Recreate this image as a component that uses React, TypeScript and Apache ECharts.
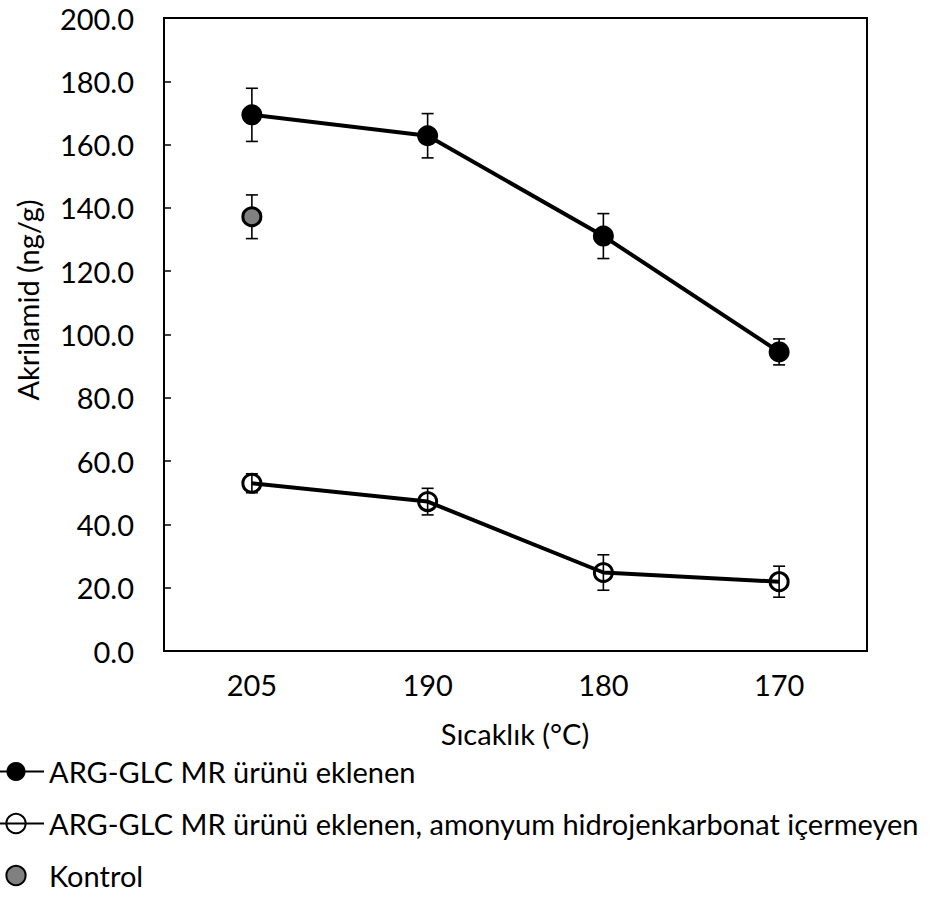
import React, { useEffect, useRef } from "react";
import * as echarts from "echarts";

const categories = ["205", "190", "180", "170"];
const filledValues = [169.4, 162.8, 131.1, 94.5];
const filledErrors = [8.4, 7.0, 7.1, 4.1];
const openValues = [53.0, 47.2, 24.8, 21.9];
const openErrors = [3.0, 4.2, 5.6, 4.9];
const controlValues: (number | null)[] = [137.2, null, null, null];
const controlErrors: (number | null)[] = [6.9, null, null, null];

const nameFilled = "ARG-GLC MR ürünü eklenen";
const nameOpen = "ARG-GLC MR ürünü eklenen, amonyum hidrojenkarbonat içermeyen";
const nameControl = "Kontrol";
const legendNames = [nameFilled, nameOpen, nameControl];

const FONT = "Lato";
const FS = 29;

function errData(vals: (number | null)[], errs: (number | null)[]) {
  const out: number[][] = [];
  vals.forEach((v, i) => {
    const e = errs[i];
    if (v != null && e != null) out.push([i, v - e, v + e]);
  });
  return out;
}

function errSeries(vals: (number | null)[], errs: (number | null)[], z: number) {
  return {
    type: "custom",
    z,
    silent: true,
    data: errData(vals, errs),
    encode: { x: 0, y: [1, 2] },
    renderItem: (params: any, api: any) => {
      const x = api.value(0);
      const lo = api.value(1);
      const hi = api.value(2);
      const p1 = api.coord([x, hi]);
      const p2 = api.coord([x, lo]);
      const w = 6;
      const st = { stroke: "#000", lineWidth: 1.6 };
      return {
        type: "group",
        children: [
          { type: "line", shape: { x1: p1[0], y1: p1[1], x2: p2[0], y2: p2[1] }, style: st },
          { type: "line", shape: { x1: p1[0] - w, y1: p1[1], x2: p1[0] + w, y2: p1[1] }, style: st },
          { type: "line", shape: { x1: p2[0] - w, y1: p2[1], x2: p2[0] + w, y2: p2[1] }, style: st },
        ],
      };
    },
  };
}

export default function App() {
  const ref = useRef<HTMLDivElement>(null);
  useEffect(() => {
    if (!ref.current) return;
    const chart = echarts.init(ref.current, null, { renderer: "svg" });
    chart.setOption({
      animation: false,
      backgroundColor: "#fff",
      textStyle: { fontFamily: FONT, color: "#000" },
      grid: {
        left: 164,
        top: 18,
        right: 77,
        bottom: 248,
        show: true,
        borderColor: "#000",
        borderWidth: 2,
        containLabel: false,
      },
      xAxis: {
        type: "category",
        data: categories,
        boundaryGap: true,
        axisLine: { lineStyle: { color: "#000", width: 2 } },
        axisTick: { inside: true, alignWithLabel: true, length: 7, lineStyle: { color: "#000", width: 1.5 } },
        axisLabel: { fontSize: FS, color: "#000", fontFamily: FONT, margin: 19 },
        splitLine: { show: false },
      },
      yAxis: {
        type: "value",
        min: 0,
        max: 200,
        interval: 20,
        axisLine: { show: true, lineStyle: { color: "#000", width: 2 } },
        axisTick: { show: true, inside: true, length: 7, lineStyle: { color: "#000", width: 1.5 } },
        axisLabel: {
          fontSize: FS,
          color: "#000",
          fontFamily: FONT,
          margin: 30,
          formatter: (v: number) => v.toFixed(1),
        },
        splitLine: { show: false },
      },
      legend: legendNames.map((n, i) => ({
        orient: "vertical",
        left: -13,
        top: 757 + i * 52,
        padding: 0,
        itemWidth: 56,
        itemHeight: 24,
        itemGap: 0,
        textStyle: { fontSize: FS, color: "#000", fontFamily: FONT },
        data: [n],
      })),
      graphic: [
        {
          type: "text",
          x: 515,
          y: 733,
          style: {
            text: "Sıcaklık (°C)",
            font: `${FS}px ${FONT}`,
            fill: "#000",
            align: "center",
            verticalAlign: "middle",
            textAlign: "center",
            textVerticalAlign: "middle",
          },
        },
        {
          type: "text",
          x: 27,
          y: 300,
          rotation: Math.PI / 2,
          style: {
            text: "Akrilamid (ng/g)",
            font: `${FS}px ${FONT}`,
            fill: "#000",
            align: "center",
            verticalAlign: "middle",
            textAlign: "center",
            textVerticalAlign: "middle",
          },
        },
      ],
      series: [
        errSeries(filledValues, filledErrors, 1),
        errSeries(controlValues, controlErrors, 1),
        errSeries(openValues, openErrors, 3),
        {
          name: nameFilled,
          type: "line",
          z: 2,
          data: filledValues,
          symbol: "circle",
          symbolSize: 21,
          lineStyle: { color: "#000", width: 4 },
          itemStyle: { color: "#000", borderColor: "#000", borderWidth: 0 },
        },
        {
          name: nameOpen,
          type: "line",
          z: 2,
          data: openValues,
          symbol: "circle",
          symbolSize: 18,
          lineStyle: { color: "#000", width: 4 },
          itemStyle: { color: "rgba(0,0,0,0)", borderColor: "#000", borderWidth: 3 },
        },
        {
          name: nameControl,
          type: "line",
          z: 2,
          data: controlValues,
          symbol: "circle",
          symbolSize: 18,
          showSymbol: true,
          lineStyle: { color: "#000", width: 4, opacity: 0 },
          itemStyle: { color: "#808080", borderColor: "#000", borderWidth: 3 },
        },
      ],
    });
    return () => chart.dispose();
  }, []);
  return <div ref={ref} style={{ width: 944, height: 899, position: "absolute", left: 0, top: 0 }} />;
}
